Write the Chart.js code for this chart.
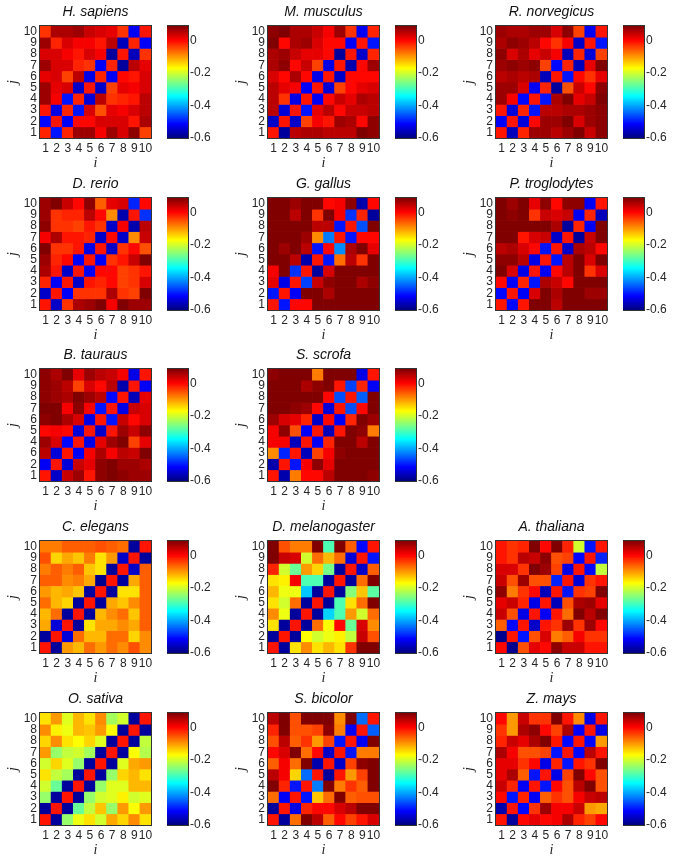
<!DOCTYPE html>
<html>
<head>
<meta charset="utf-8">
<title>Correlation maps</title>
<script src="https://cdn.jsdelivr.net/npm/chart.js@4"></script>
<style>
  html, body { margin: 0; padding: 0; background: #fff; }
  #figure { position: relative; width: 675px; height: 861px; overflow: hidden; }
  #figure canvas { position: absolute; }
</style>
</head>
<body>
<div id="figure"></div>
<script>
// rows run from j = 10 (top) down to j = 1, columns from i = 1 to i = 10
const hSapiens = [
  [-0.03,0.06,0.06,0.07,0.04,0.03,0.02,-0.03,-0.52,-0.01],
  [0.07,-0.02,0.03,0.01,0.01,-0.01,0.05,-0.56,-0.02,-0.52],
  [0.03,0.03,0.01,-0.01,0.03,0.01,-0.58,-0.01,-0.56,-0.03],
  [0.07,0.03,0.03,-0.02,-0.03,-0.52,-0.02,-0.58,0.05,0.02],
  [0.02,0.03,-0.04,0.05,-0.53,-0.02,-0.52,0,-0.01,0.03],
  [0.07,0.02,0.03,-0.55,-0.01,-0.55,-0.04,0.02,0.01,0.03],
  [0.07,0.01,-0.5,-0.02,-0.54,0.05,-0.03,-0.02,-0.01,0.05],
  [-0.01,-0.53,-0.02,-0.5,0.03,-0.05,0.02,0.01,0.03,0.05],
  [-0.51,-0.01,-0.52,0,0,0.03,0.03,0.03,-0.01,0.06],
  [-0.02,-0.5,-0.02,0.07,0.07,0.01,0.07,0.03,0.08,-0.04]
];
const mMusculus = [
  [0.08,0.09,0.06,0.06,0.04,0.01,0.07,-0.03,-0.52,-0.02],
  [0.09,0,0.06,0.07,0.03,0,0,-0.52,-0.01,-0.5],
  [0.06,0.07,0.04,0.02,0.02,0,-0.58,-0.01,-0.55,-0.02],
  [0.06,0.08,0,0.04,-0.04,-0.53,-0.01,-0.57,0,0.07],
  [0.03,0,0.06,0,-0.53,-0.01,-0.55,0,0,0],
  [0.05,0.02,0.01,-0.52,-0.01,-0.54,-0.04,0,0.02,0.03],
  [0.05,-0.03,-0.53,-0.01,-0.52,0,0.04,0.02,0.06,0.05],
  [0.05,-0.54,-0.01,-0.5,0.02,0.05,0,0.04,0.04,0.05],
  [-0.55,-0.01,-0.55,-0.04,0.01,-0.01,0.07,0.06,0,0.08],
  [-0.01,-0.58,0.05,0.06,0.06,0.05,0.05,0.05,0.09,0.08]
];
const rNorvegicus = [
  [0.07,0.06,0.06,0.07,0.07,0.03,0.08,-0.04,-0.52,-0.01],
  [0.06,0.08,0.07,0.05,0,-0.03,0.01,-0.55,-0.01,-0.5],
  [0.08,0.03,0.06,0.02,0.04,0.01,-0.56,-0.02,-0.54,-0.04],
  [0.07,0.08,0.07,0.08,-0.04,-0.51,-0.02,-0.56,0.02,0.09],
  [0.05,0.06,0.05,0.06,-0.56,-0.01,-0.5,0,-0.03,0.02],
  [0.07,0.07,0.03,-0.52,-0.02,-0.58,-0.05,0.04,0,0.08],
  [0.07,0.01,-0.51,-0.01,-0.5,0.06,0.09,0.02,0.04,0.09],
  [-0.01,-0.54,-0.02,-0.5,0.05,0.05,0.06,0.06,0.07,0.08],
  [-0.52,-0.01,-0.54,0,0.07,0.07,0.09,0.03,0.07,0.08],
  [-0.01,-0.56,-0.02,0.07,0.07,0.05,0.07,0.09,0.04,0.08]
];
const dRerio = [
  [0.07,0.09,0.04,0,0.08,-0.06,0.02,0.03,-0.49,0],
  [0.07,-0.03,-0.02,-0.02,0.05,0,-0.09,-0.57,-0.01,-0.48],
  [0.08,-0.03,-0.03,-0.04,-0.01,-0.03,-0.55,0.01,-0.57,0.05],
  [0.01,0.06,-0.01,-0.01,-0.02,-0.55,0,-0.55,-0.09,0.04],
  [0.09,-0.03,-0.03,-0.01,-0.53,-0.01,-0.55,-0.03,0,-0.05],
  [0.07,-0.02,0,-0.52,-0.01,-0.52,-0.03,-0.01,0.04,0.09],
  [0.06,-0.01,-0.55,-0.01,-0.52,0,0,-0.04,-0.03,-0.01],
  [-0.02,-0.52,-0.01,-0.55,-0.01,-0.02,0,-0.04,-0.03,0.03],
  [-0.55,-0.01,-0.52,-0.03,-0.03,-0.03,0.06,-0.03,-0.04,0.1],
  [-0.01,-0.55,-0.03,0.06,0.07,0.1,0.01,0.09,0.07,0.07]
];
const gGallus = [
  [0.1,0.1,0.07,0.09,0.09,0,0.01,0.08,-0.57,0],
  [0.1,0.1,0.05,0.1,-0.03,0.09,0.01,-0.48,-0.02,-0.58],
  [0.1,0.1,0.09,0.09,0.05,0.05,-0.5,-0.01,-0.46,0.09],
  [0.1,0.1,0.09,0.07,-0.09,-0.43,-0.01,-0.5,0,0],
  [0.1,0.07,0.09,0.05,-0.5,0,-0.42,0.06,0.09,0.02],
  [0.09,0.09,0.05,-0.57,-0.01,-0.5,-0.07,0.05,-0.03,0.09],
  [0.01,0.09,-0.48,-0.01,-0.58,0.03,0.1,0.1,0.1,0.1],
  [0.02,-0.53,-0.01,-0.47,0.04,0.08,0.1,0.1,0.06,0.08],
  [-0.5,-0.01,-0.52,0.09,0.09,0.06,0.1,0.1,0.1,0.1],
  [-0.01,-0.5,0,0,0.09,0.09,0.1,0.1,0.1,0.1]
];
const pTroglodytes = [
  [0.09,0.07,0.09,0.02,0.08,0,0.08,0.08,-0.52,-0.01],
  [0.09,0.08,0.09,-0.03,0.04,0.03,0.04,-0.52,-0.02,-0.56],
  [0.09,0.09,0.09,0.09,0.09,0.06,-0.58,-0.02,-0.52,0.09],
  [0.09,0.09,-0.01,0.03,0.04,-0.55,-0.01,-0.58,0.04,0.09],
  [0.05,0.06,0.03,0,-0.5,-0.01,-0.55,0.06,0.05,0],
  [0.08,0.08,0.05,-0.53,-0.01,-0.5,0.05,0.09,0.03,0.09],
  [0.09,0.03,-0.53,-0.01,-0.52,0,0.05,0.09,-0.03,0.03],
  [0,-0.52,-0.02,-0.5,0.06,0.04,0,0.09,0.09,0.09],
  [-0.51,-0.01,-0.52,0.03,0.09,0.06,0.09,0.09,0.07,0.07],
  [-0.01,-0.51,-0.01,0.09,0.09,0.05,0.09,0.09,0.09,0.09]
];
const bTauraus = [
  [0.08,0.06,0.09,0.02,0.07,0.05,0.04,0.01,-0.53,-0.01],
  [0.08,0.07,0.05,-0.04,0.03,0,0.05,-0.57,-0.01,-0.52],
  [0.08,0.07,0.06,0.09,0.07,0.05,-0.51,-0.01,-0.56,0.02],
  [0.09,0.09,0.01,0.08,0.01,-0.5,-0.01,-0.53,0.04,0.03],
  [0.08,0.09,0.06,0.03,-0.53,-0.01,-0.5,0.04,0,0.03],
  [0,0.01,0,-0.54,-0.01,-0.55,-0.01,0.07,0.04,0.08],
  [0.07,0.03,-0.51,-0.01,-0.53,0.02,0.07,0.09,-0.04,0.02],
  [0.05,-0.54,-0.01,-0.52,0.01,0.06,0.01,0.05,0.04,0.09],
  [-0.52,-0.01,-0.54,0.04,0.02,0.08,0.09,0.07,0.07,0.06],
  [-0.01,-0.55,0.04,0.07,-0.01,0.08,0.09,0.08,0.07,0.07]
];
const sScrofa = [
  [0.08,0.09,0.09,0.09,-0.08,0.09,0.09,0.09,-0.53,-0.01],
  [0.09,0.09,0.09,0.06,0.08,0.09,-0.01,-0.47,-0.02,-0.52],
  [0.09,0.09,0.09,0.09,0.09,0,-0.46,-0.01,-0.45,0.09],
  [0.09,0.09,0.08,0.07,0,-0.54,-0.01,-0.46,0,0.09],
  [0.07,0.03,0.02,-0.02,-0.55,0,-0.52,-0.02,0.09,0.07],
  [0.01,0.08,-0.05,-0.52,-0.01,-0.56,-0.01,0.09,0.08,-0.08],
  [0.01,0.01,-0.56,-0.01,-0.52,-0.02,0.09,0.09,0.05,0.09],
  [-0.09,-0.49,-0.01,-0.56,-0.04,0.01,0.08,0.09,0.09,0.09],
  [-0.57,-0.01,-0.5,0.01,0.08,0.02,0.09,0.09,0.09,0.09],
  [-0.01,-0.57,-0.08,0,0,0.05,0.09,0.09,0.09,0.08]
];
const cElegans = [
  [-0.08,-0.08,-0.06,-0.06,-0.06,-0.05,-0.06,-0.07,-0.58,-0.01],
  [-0.05,-0.14,-0.11,-0.13,-0.08,-0.15,-0.1,-0.55,-0.01,-0.58],
  [-0.08,-0.06,-0.08,-0.06,-0.13,-0.15,-0.58,-0.01,-0.55,-0.06],
  [-0.06,-0.06,-0.09,-0.08,-0.11,-0.59,-0.01,-0.58,-0.11,-0.06],
  [-0.1,-0.12,-0.11,-0.13,-0.58,-0.01,-0.58,-0.15,-0.15,-0.06],
  [-0.07,-0.12,-0.14,-0.58,-0.01,-0.58,-0.11,-0.13,-0.09,-0.06],
  [-0.12,-0.07,-0.58,-0.01,-0.58,-0.12,-0.09,-0.07,-0.13,-0.06],
  [-0.11,-0.54,-0.01,-0.58,-0.15,-0.11,-0.11,-0.09,-0.11,-0.06],
  [-0.58,-0.01,-0.54,-0.07,-0.12,-0.12,-0.07,-0.07,-0.14,-0.09],
  [-0.01,-0.58,-0.1,-0.12,-0.07,-0.1,-0.07,-0.09,-0.05,-0.09]
];
const dMelanogaster = [
  [0.09,-0.05,-0.08,-0.08,0.09,-0.29,0.09,-0.06,-0.51,-0.01],
  [0.09,0.04,0.03,-0.2,-0.07,-0.12,-0.07,-0.54,-0.01,-0.5],
  [-0.02,-0.2,-0.27,-0.1,-0.14,-0.26,-0.58,-0.01,-0.55,-0.06],
  [-0.15,-0.16,0.01,-0.29,-0.29,-0.58,-0.01,-0.58,-0.07,0.09],
  [-0.12,-0.18,-0.18,-0.38,-0.58,-0.01,-0.58,-0.25,-0.13,-0.28],
  [-0.15,-0.2,-0.07,-0.58,-0.01,-0.58,-0.29,-0.15,-0.07,0.09],
  [-0.09,-0.18,-0.58,-0.01,-0.58,-0.37,-0.29,-0.1,-0.2,-0.07],
  [-0.15,-0.58,-0.01,-0.58,-0.07,-0.17,0,-0.27,0.03,-0.09],
  [-0.58,-0.01,-0.58,-0.17,-0.2,-0.18,-0.16,-0.21,0.04,-0.05],
  [-0.01,-0.58,-0.15,-0.09,-0.15,-0.12,-0.15,-0.03,0.09,0.09]
];
const aThaliana = [
  [-0.01,-0.03,-0.02,0.09,0,0.1,-0.02,-0.2,-0.5,-0.01],
  [-0.01,-0.03,0.05,0.04,0.08,-0.05,-0.04,-0.51,-0.01,-0.49],
  [0.03,0.03,-0.03,0.09,0.07,-0.04,-0.53,-0.01,-0.51,-0.21],
  [0.04,-0.05,0.07,-0.05,-0.05,-0.49,-0.01,-0.54,-0.03,-0.01],
  [0.08,-0.08,-0.03,0,-0.56,-0.01,-0.5,-0.03,-0.04,0.1],
  [0.02,0.04,-0.02,-0.53,-0.01,-0.56,-0.05,0.06,0.07,0.02],
  [0.04,-0.05,-0.53,-0.01,-0.52,-0.01,-0.07,0.1,0.05,0.1],
  [-0.06,-0.51,-0.01,-0.55,-0.01,-0.03,0.07,-0.03,0.07,0],
  [-0.59,-0.01,-0.5,-0.05,0.03,-0.08,-0.06,0.01,-0.03,-0.03],
  [0,-0.59,-0.05,0.02,0,0.08,0.04,0.04,-0.01,-0.01]
];
const oSativa = [
  [-0.15,-0.1,-0.19,-0.12,-0.15,-0.09,-0.23,-0.2,-0.58,-0.01],
  [-0.09,-0.16,-0.18,-0.12,-0.13,-0.1,-0.17,-0.58,-0.01,-0.58],
  [-0.14,-0.09,-0.15,-0.17,-0.14,-0.19,-0.58,-0.01,-0.58,-0.21],
  [-0.1,-0.24,-0.21,-0.2,-0.23,-0.58,-0.01,-0.58,-0.17,-0.22],
  [-0.2,-0.14,-0.19,-0.24,-0.58,-0.01,-0.58,-0.19,-0.11,-0.1],
  [-0.15,-0.21,-0.23,-0.58,-0.01,-0.58,-0.24,-0.14,-0.12,-0.15],
  [-0.2,-0.27,-0.58,-0.01,-0.58,-0.24,-0.19,-0.19,-0.12,-0.12],
  [-0.24,-0.58,-0.01,-0.58,-0.24,-0.2,-0.19,-0.16,-0.2,-0.19],
  [-0.58,-0.01,-0.58,-0.27,-0.21,-0.13,-0.24,-0.1,-0.17,-0.1],
  [-0.01,-0.58,-0.24,-0.18,-0.15,-0.2,-0.11,-0.14,-0.09,-0.15]
];
const sBicolor = [
  [0.05,0.09,-0.05,0.09,0.09,0.09,-0.09,0.09,-0.44,-0.01],
  [-0.02,0.09,-0.05,-0.05,-0.04,0.08,-0.08,-0.52,-0.01,-0.45],
  [-0.05,0.05,-0.06,-0.03,-0.1,-0.04,-0.5,-0.01,-0.52,0.09],
  [0,0.03,0.1,-0.07,0,-0.55,-0.01,-0.5,-0.08,-0.08],
  [-0.06,0.01,-0.07,0.09,-0.57,-0.01,-0.55,-0.04,0.08,0.1],
  [0.05,0.01,-0.14,-0.44,-0.01,-0.58,-0.01,-0.1,-0.04,0.1],
  [0.09,-0.02,-0.5,-0.01,-0.43,0.09,-0.08,-0.03,-0.06,0.1],
  [-0.07,-0.52,-0.01,-0.5,-0.13,-0.07,0.1,-0.06,-0.05,-0.05],
  [-0.58,-0.01,-0.53,-0.02,0,0,0.03,0.05,0.09,0.09],
  [-0.01,-0.58,-0.07,0.09,0.05,-0.06,0,-0.04,-0.01,0.03]
];
const zMays = [
  [0,-0.1,0.04,-0.03,-0.03,0.09,-0.01,-0.09,-0.53,-0.01],
  [-0.03,-0.1,0.06,0.08,0,-0.04,0.06,-0.52,-0.01,-0.53],
  [-0.02,0.04,0.02,0.06,0.09,-0.01,-0.51,-0.01,-0.51,-0.1],
  [0.06,0.01,-0.05,-0.05,-0.04,-0.5,-0.01,-0.51,0.05,-0.01],
  [0.02,0.02,-0.03,0,-0.53,-0.02,-0.5,-0.01,-0.03,0.1],
  [0.02,0.06,-0.06,-0.5,-0.01,-0.53,-0.04,0.09,0,-0.05],
  [0.04,-0.02,-0.52,-0.01,-0.5,0,-0.05,0.05,0.09,-0.05],
  [0,-0.5,-0.02,-0.52,-0.06,-0.03,-0.05,0.01,0.04,0.05],
  [-0.57,-0.01,-0.51,-0.03,0.07,0.01,0.01,0.04,-0.1,-0.11],
  [-0.01,-0.58,0,0.02,0,0.01,0.06,-0.02,-0.04,0]
];

const iLabels = ["1","2","3","4","5","6","7","8","9","10"];
const jLabels = ["1","2","3","4","5","6","7","8","9","10"];
// two panels in the source figure carry misprinted j ticks
const jLabelsTauraus = ["1","2","6","4","5","6","7","8","9","10"];
const jLabelsSativa = ["1","2","3","4","5","6","7","8","8","10"];
const colorbarRange = [-0.6, 0.09];
const colorbarTicks = [0, -0.2, -0.4, -0.6];

// name, matrix, j ticks, column, row
const panels = [
  ["H. sapiens", hSapiens, jLabels, 0, 0],
  ["M. musculus", mMusculus, jLabels, 1, 0],
  ["R. norvegicus", rNorvegicus, jLabels, 2, 0],
  ["D. rerio", dRerio, jLabels, 0, 1],
  ["G. gallus", gGallus, jLabels, 1, 1],
  ["P. troglodytes", pTroglodytes, jLabels, 2, 1],
  ["B. tauraus", bTauraus, jLabelsTauraus, 0, 2],
  ["S. scrofa", sScrofa, jLabels, 1, 2],
  ["C. elegans", cElegans, jLabels, 0, 3],
  ["D. melanogaster", dMelanogaster, jLabels, 1, 3],
  ["A. thaliana", aThaliana, jLabels, 2, 3],
  ["O. sativa", oSativa, jLabelsSativa, 0, 4],
  ["S. bicolor", sBicolor, jLabels, 1, 4],
  ["Z. mays", zMays, jLabels, 2, 4]
];

const columnLefts = [40, 268, 496];
const colorbarLefts = [167, 395, 623];
const rowTops = [26, 198, 369, 541, 713];
const plotWidth = 111;
const plotHeight = 112;
const colorbarWidth = 21;
const textColor = "#262626";

// MATLAB jet
function jet(t) {
  t = Math.max(0, Math.min(1, t));
  const r = Math.max(0, Math.min(1, 1.5 - Math.abs(4 * t - 3)));
  const g = Math.max(0, Math.min(1, 1.5 - Math.abs(4 * t - 2)));
  const b = Math.max(0, Math.min(1, 1.5 - Math.abs(4 * t - 1)));
  return `rgb(${Math.round(r * 255)},${Math.round(g * 255)},${Math.round(b * 255)})`;
}

function valueColor(v) {
  return jet((v - colorbarRange[0]) / (colorbarRange[1] - colorbarRange[0]));
}

const framePlugin = {
  id: "frame",
  afterDatasetsDraw(chart) {
    const a = chart.chartArea;
    chart.ctx.save();
    chart.ctx.strokeStyle = "#333";
    chart.ctx.lineWidth = 1;
    chart.ctx.strokeRect(a.left - 0.5, a.top - 0.5, a.right - a.left + 1, a.bottom - a.top + 1);
    chart.ctx.restore();
  }
};

function addCanvas(left, top, width, height) {
  const canvas = document.createElement("canvas");
  canvas.width = width;
  canvas.height = height;
  canvas.style.left = left + "px";
  canvas.style.top = top + "px";
  document.getElementById("figure").appendChild(canvas);
  return canvas;
}

function fixBox(scale, size) {
  if (scale.isHorizontal()) scale.height = size;
  else scale.width = size;
  scale.paddingLeft = 0;
  scale.paddingRight = 0;
  scale.paddingTop = 0;
  scale.paddingBottom = 0;
}

function drawHeatmap(panel) {
  const name = panel[0], matrix = panel[1], yLabels = panel[2], col = panel[3], row = panel[4];
  const leftSpace = 35, rightSpace = 8, topSpace = 22, bottomSpace = 36;

  // one floating-bar dataset per row of cells
  const datasets = matrix.map((cells, r) => ({
    data: cells.map(() => [10 - r - 0.5, 10 - r + 0.5]),
    backgroundColor: cells.map((v) => valueColor(v)),
    borderWidth: 0,
    barPercentage: 1,
    categoryPercentage: 1,
    grouped: false
  }));

  new Chart(addCanvas(columnLefts[col] - leftSpace, rowTops[row] - topSpace,
      leftSpace + plotWidth + rightSpace, topSpace + plotHeight + bottomSpace), {
    type: "bar",
    data: { labels: iLabels.slice(), datasets: datasets },
    plugins: [framePlugin],
    options: {
      responsive: false,
      animation: false,
      layout: { padding: { left: 0, right: rightSpace, top: 0, bottom: 0 } },
      plugins: {
        legend: { display: false },
        tooltip: { enabled: false },
        title: {
          display: true,
          fullSize: false,
          text: name,
          color: "#111",
          font: { family: "Liberation Sans", size: 14, style: "italic", weight: "normal", lineHeight: 1.2 },
          padding: { top: 0, bottom: 5.2 }
        }
      },
      scales: {
        x: {
          grid: { display: false, drawTicks: false },
          border: { display: false },
          ticks: {
            autoSkip: false, maxRotation: 0, minRotation: 0, padding: 3,
            color: textColor, font: { family: "Liberation Sans", size: 12 }
          },
          title: {
            display: true, text: "i", color: textColor,
            font: { family: "Liberation Serif", size: 14, style: "italic", lineHeight: 1.2 },
            padding: { top: 0, bottom: 2.6 }
          },
          afterFit: (scale) => fixBox(scale, bottomSpace)
        },
        y: {
          type: "linear",
          min: 0.5,
          max: 10.5,
          grid: { display: false, drawTicks: false },
          border: { display: false },
          afterBuildTicks: (scale) => { scale.ticks = yLabels.map((_, k) => ({ value: k + 1 })); },
          ticks: {
            autoSkip: false, padding: 3,
            color: textColor, font: { family: "Liberation Sans", size: 12 },
            callback: (value) => yLabels[value - 1]
          },
          title: {
            display: true, text: "j", color: textColor,
            font: { family: "Liberation Serif", size: 14, style: "italic", lineHeight: 1.2 },
            padding: 0
          },
          afterFit: (scale) => fixBox(scale, leftSpace)
        }
      }
    }
  });
}

function drawColorbar(panel) {
  const col = panel[3], row = panel[4];
  const padY = 10, labelSpace = 33;

  new Chart(addCanvas(colorbarLefts[col], rowTops[row] - padY, colorbarWidth + labelSpace, plotHeight + padY * 2), {
    type: "bar",
    data: {
      labels: ["scale"],
      datasets: [{
        data: [colorbarRange.slice()],
        borderWidth: 0,
        barPercentage: 1,
        categoryPercentage: 1,
        backgroundColor: (ctx) => {
          const area = ctx.chart.chartArea;
          if (!area) return "#000";
          const gradient = ctx.chart.ctx.createLinearGradient(0, area.bottom, 0, area.top);
          for (let k = 0; k <= 16; k++) gradient.addColorStop(k / 16, jet(k / 16));
          return gradient;
        }
      }]
    },
    plugins: [framePlugin],
    options: {
      responsive: false,
      animation: false,
      layout: { padding: { top: padY, bottom: padY, left: 0, right: 0 } },
      plugins: { legend: { display: false }, tooltip: { enabled: false }, title: { display: false } },
      scales: {
        x: { display: false, afterFit: (scale) => fixBox(scale, 0) },
        y: {
          position: "right",
          min: colorbarRange[0],
          max: colorbarRange[1],
          grid: { display: false, drawTicks: false },
          border: { display: false },
          afterBuildTicks: (scale) => { scale.ticks = colorbarTicks.map((v) => ({ value: v })); },
          ticks: {
            autoSkip: false, padding: 2,
            color: textColor, font: { family: "Liberation Sans", size: 12 },
            callback: (value) => String(value)
          },
          afterFit: (scale) => fixBox(scale, labelSpace)
        }
      }
    }
  });
}

panels.forEach(drawHeatmap);
panels.forEach(drawColorbar);
</script>
</body>
</html>
